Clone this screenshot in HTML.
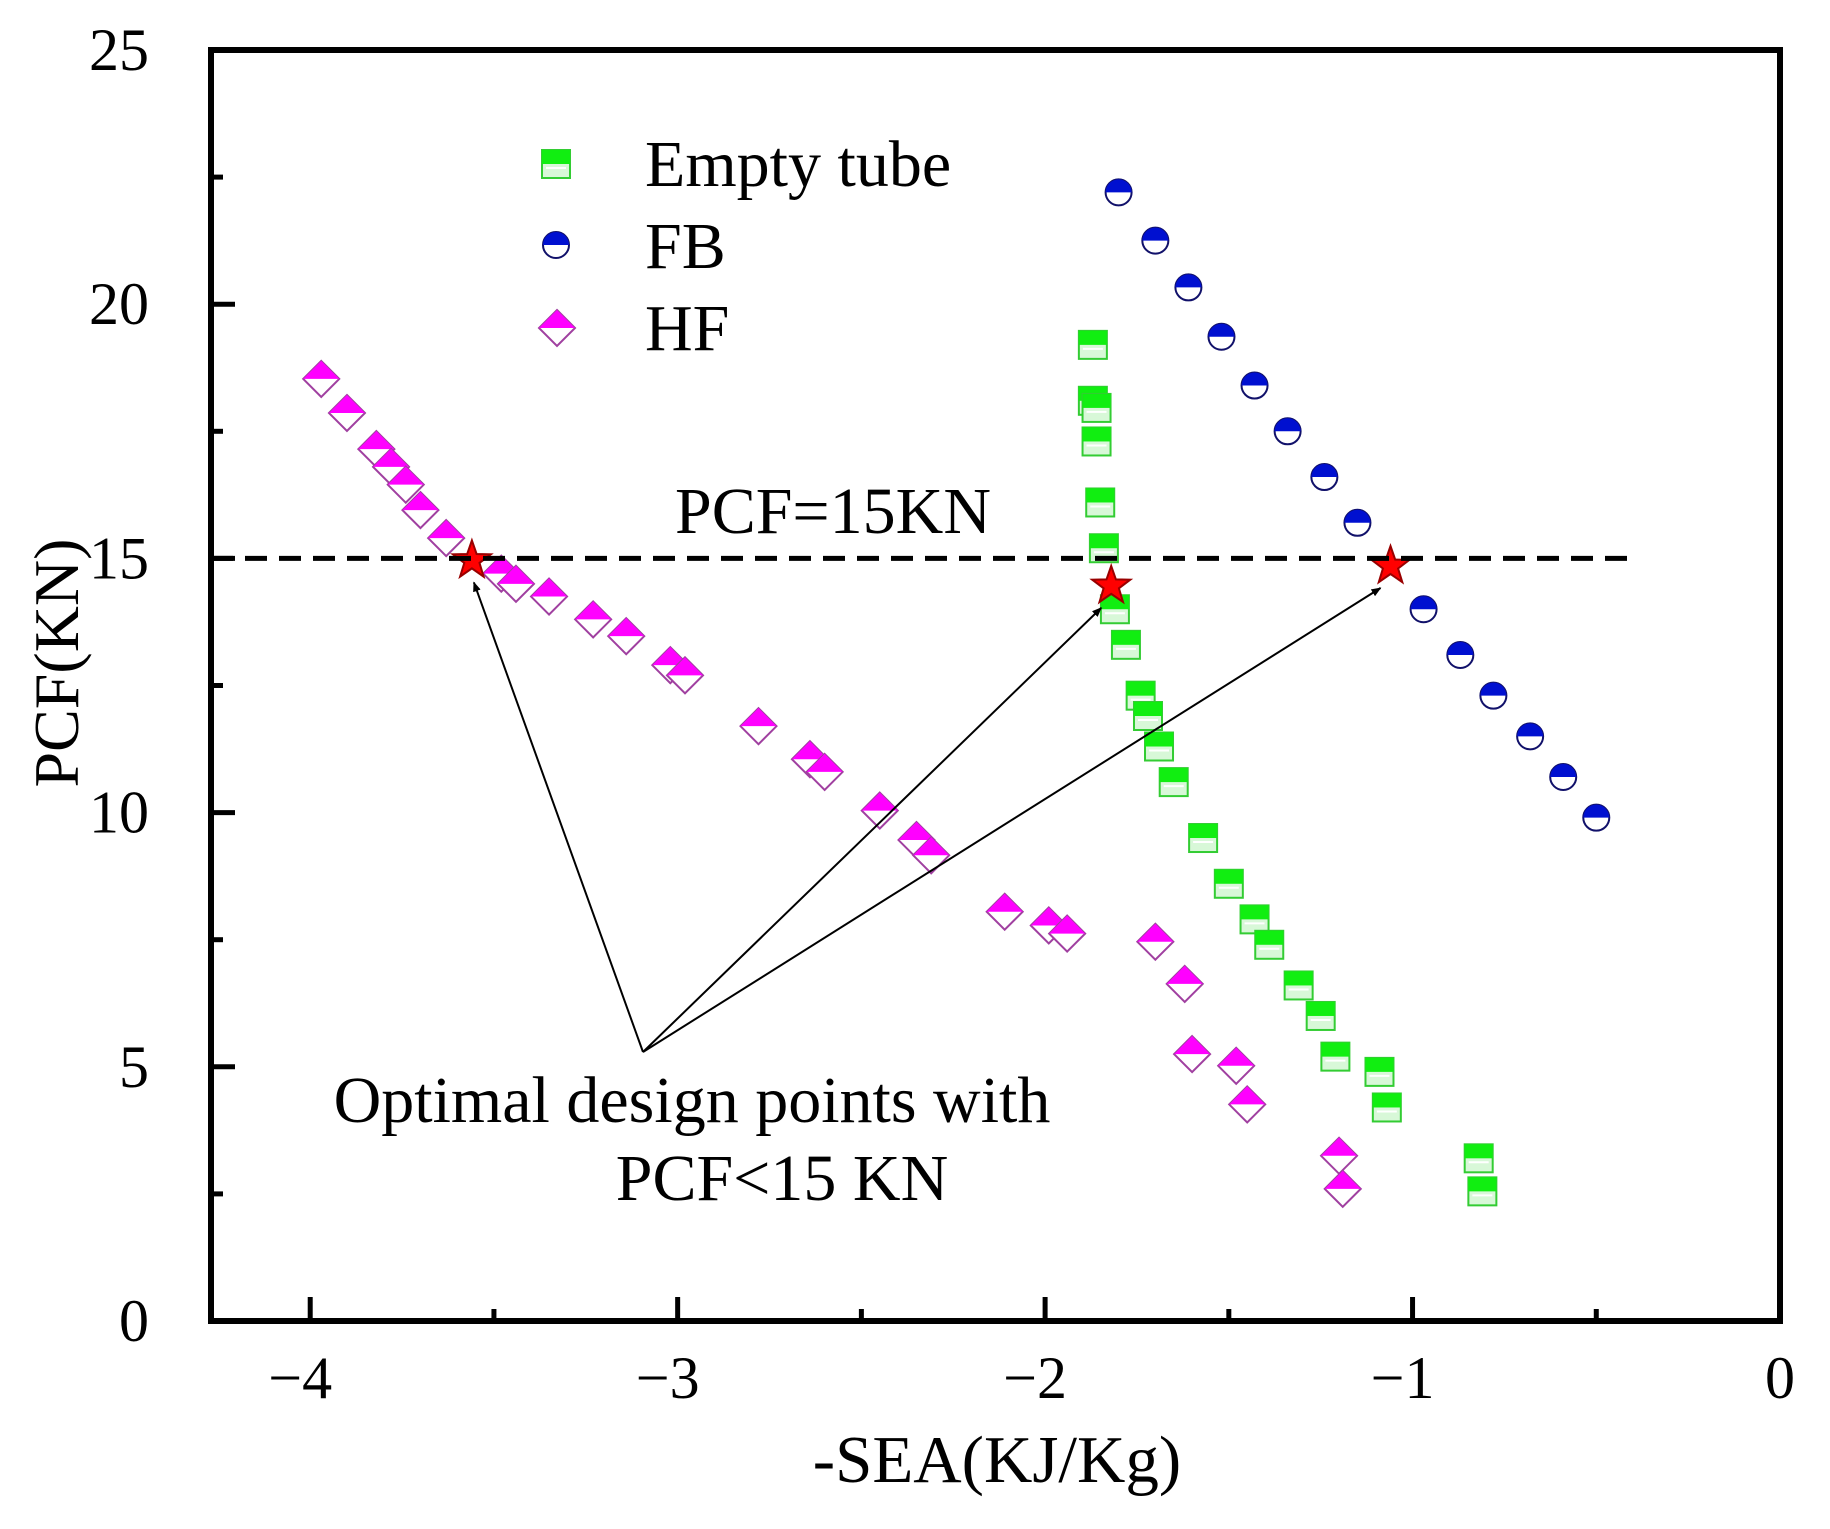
<!DOCTYPE html>
<html><head><meta charset="utf-8"><style>
html,body{margin:0;padding:0;background:#fff}
svg{display:block}
text{font-family:"Liberation Serif",serif;fill:#000}
</style></head><body>
<svg id="chart" width="1830" height="1529" viewBox="0 0 1830 1529">
<g id="marks"></g>
</svg>
<script>
const xTicks=[-4,-3,-2,-1,0];
const yTicks=[0,5,10,15,20,25];
const emptyX=[-1.87,-1.87,-1.86,-1.86,-1.85,-1.84,-1.81,-1.78,-1.74,-1.72,-1.69,-1.65,-1.57,-1.50,-1.43,-1.39,-1.31,-1.25,-1.21,-1.09,-1.07,-0.82,-0.81];
const emptyY=[19.2,18.1,17.96,17.3,16.1,15.2,14.0,13.3,12.3,11.9,11.3,10.6,9.5,8.6,7.9,7.4,6.6,6.0,5.2,4.9,4.2,3.2,2.55];
const fbX=[-1.80,-1.70,-1.61,-1.52,-1.43,-1.34,-1.24,-1.15,-0.97,-0.87,-0.78,-0.68,-0.59,-0.50];
const fbY=[22.2,21.25,20.33,19.36,18.4,17.5,16.6,15.7,14.0,13.1,12.3,11.5,10.7,9.9];
const hfX=[-3.97,-3.90,-3.82,-3.78,-3.74,-3.70,-3.63,-3.48,-3.44,-3.35,-3.23,-3.14,-3.02,-2.98,-2.78,-2.64,-2.60,-2.45,-2.35,-2.31,-2.11,-1.99,-1.94,-1.70,-1.62,-1.60,-1.48,-1.45,-1.20,-1.19];
const hfY=[18.53,17.86,17.15,16.8,16.45,15.95,15.4,14.7,14.5,14.25,13.8,13.47,12.9,12.7,11.7,11.05,10.8,10.04,9.46,9.16,8.05,7.78,7.62,7.46,6.63,5.25,5.02,4.26,3.25,2.6];
const starX=[-3.56,-1.82,-1.06];
const starY=[14.96,14.46,14.85];
const threshold=15;

const L=211,R=1780,T=50,B=1321;
const X0=-4.27,X1=0,Y0=0,Y1=25;
const sx=v=>L+(v-X0)/(X1-X0)*(R-L);
const sy=v=>B-(v-Y0)/(Y1-Y0)*(B-T);
const NS='http://www.w3.org/2000/svg';
const svg=document.getElementById('chart');
const g=document.getElementById('marks');
function mk(tag,attrs,parent){const e=document.createElementNS(NS,tag);for(const k in attrs)e.setAttribute(k,attrs[k]);(parent||svg).appendChild(e);return e;}

const fr=mk('rect',{x:L,y:T,width:R-L,height:B-T,fill:'none',stroke:'#000','stroke-width':6});


xTicks.forEach((t,i)=>{
 const tk=mk('line',{x1:sx(t),x2:sx(t),y1:B,y2:B-24,stroke:'#000','stroke-width':5});
 
 
 if(i<xTicks.length-1){const m=mk('line',{x1:sx(t+0.5),x2:sx(t+0.5),y1:B,y2:B-12,stroke:'#000','stroke-width':5});
 
 }
 const lb=mk('text',{x:sx(t)-(t<0?10:0),y:1398,'font-size':60,'text-anchor':'middle'});
 lb.textContent=(t<0?'\u2212':'')+Math.abs(t);
 
 
});
yTicks.forEach((t,i)=>{
 const tk=mk('line',{x1:L,x2:L+24,y1:sy(t),y2:sy(t),stroke:'#000','stroke-width':5});
 
 
 if(i<yTicks.length-1){const m=mk('line',{x1:L,x2:L+12,y1:sy(t+2.5),y2:sy(t+2.5),stroke:'#000','stroke-width':5});
 
 }
 const lb=mk('text',{x:149,y:sy(t)+20,'font-size':60,'text-anchor':'end'});
 lb.textContent=t;
 
 
});
const xt=mk('text',{x:997,y:1482,'font-size':67,'text-anchor':'middle'});xt.textContent='-SEA(KJ/Kg)';


const yt=mk('text',{x:0,y:0,'font-size':64,'text-anchor':'middle',transform:'translate(78,663) rotate(-90)'});yt.textContent='PCF(KN)';



const th=mk('line',{x1:L,x2:sx(-0.40),y1:sy(threshold),y2:sy(threshold),stroke:'#000','stroke-width':5,'stroke-dasharray':'22,12'});


const tl=mk('text',{x:833,y:533,'font-size':66,'text-anchor':'middle'});tl.textContent='PCF=15KN';



function square(x,y,p){const s=28;
 mk('rect',{x:x-s/2,y:y-s/2,width:s,height:s,fill:'#d8f8d8',stroke:'#3c3',"stroke-width":2},p);
 mk('rect',{x:x-s/2,y:y-s/2,width:s,height:s/2,fill:'#1e1'},p);
 mk('line',{x1:x-s/2+4,x2:x+s/2-4,y1:y+4,y2:y+4,stroke:'#fff','stroke-width':2},p);}
function circle(x,y,p){const r=13;
 mk('circle',{cx:x,cy:y,r:r,fill:'#fff',stroke:'#11116a','stroke-width':2},p);
 mk('path',{d:`M${x-r},${y} A${r},${r} 0 0 1 ${x+r},${y} Z`,fill:'#0010d0'},p);}
function diamond(x,y,p){const h=18;
 mk('path',{d:`M${x},${y-h} L${x+h},${y} L${x},${y+h} L${x-h},${y} Z`,fill:'#fff',stroke:'#a040a0','stroke-width':2},p);
 mk('path',{d:`M${x},${y-h} L${x+h},${y} L${x-h},${y} Z`,fill:'#f0f'},p);}
function star(x,y,p){let d='';for(let i=0;i<10;i++){const r=i%2?8:20,a=-Math.PI/2+i*Math.PI/5;d+=(i?'L':'M')+(x+r*Math.cos(a)).toFixed(1)+','+(y+r*Math.sin(a)).toFixed(1);}
 mk('path',{d:d+'Z',fill:'#f00',stroke:'#900','stroke-width':2},p);}

emptyX.forEach((v,i)=>{const p=mk('g',{},g);
 
 
 square(sx(v),sy(emptyY[i]),p);});
fbX.forEach((v,i)=>{const p=mk('g',{},g);
 
 
 circle(sx(v),sy(fbY[i]),p);});
hfX.forEach((v,i)=>{const p=mk('g',{},g);
 
 
 diamond(sx(v),sy(hfY[i]),p);});

const defs=mk('defs',{});
const mark=mk('marker',{id:'ah',markerWidth:10,markerHeight:8,refX:9,refY:4,orient:'auto',markerUnits:'userSpaceOnUse'},defs);
mk('path',{d:'M0,0 L10,4 L0,8 Z',fill:'#000'},mark);
const ox=643,oy=1052;
starX.forEach((v,i)=>{const a=mk('line',{x1:ox,y1:oy,x2:sx(v)-(i==0?-2:10),y2:sy(starY[i])+22,stroke:'#000','stroke-width':2,'marker-end':'url(#ah)'});
 
 });
starX.forEach((v,i)=>{const p=mk('g',{},g);
 
 
 star(sx(v),sy(starY[i]),p);});
const a1=mk('text',{x:692,y:1122,'font-size':66,'text-anchor':'middle'});a1.textContent='Optimal design points with';


const a2=mk('text',{x:782,y:1200,'font-size':66,'text-anchor':'middle'});a2.textContent='PCF<15 KN';



const lg=mk('g',{});


const le1=mk('g',{},lg);
square(556,164,le1);
const t1=mk('text',{x:645,y:186,'font-size':66},le1);t1.textContent='Empty tube';
const le2=mk('g',{},lg);
circle(556,245,le2);
const t2=mk('text',{x:645,y:268,'font-size':66},le2);t2.textContent='FB';
const le3=mk('g',{},lg);
diamond(557,328,le3);
const t3=mk('text',{x:645,y:350,'font-size':66},le3);t3.textContent='HF';
</script>
</body></html>
